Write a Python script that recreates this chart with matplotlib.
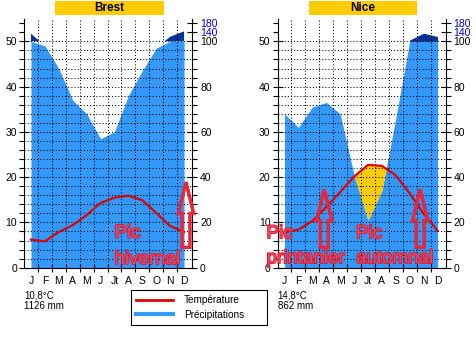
import numpy as np
import matplotlib.pyplot as plt
import matplotlib.patheffects as pe
from matplotlib.patches import Rectangle, FancyArrow
from matplotlib.lines import Line2D

plt.rcParams['font.family'] = ['Liberation Sans', 'DejaVu Sans']

months = ['J', 'F', 'M', 'A', 'M', 'J', 'Jt', 'A', 'S', 'O', 'N', 'D']

brest_temp = [6.2, 5.8, 7.9, 9.4, 11.6, 14.3, 15.5, 15.9, 14.9, 12.1, 9.2, 7.9]
brest_precip = [134, 98, 88, 74, 68, 57, 60, 76, 87, 97, 120, 144]
brest_mean = '10,8°C'
brest_total = '1126 mm'

nice_temp = [7.8, 8.4, 10.3, 13.4, 16.7, 20.1, 22.7, 22.5, 20.4, 16.4, 11.9, 8.2]
nice_precip = [68, 62, 71, 73, 68, 41, 21, 34, 66, 106, 136, 121]
nice_mean = '14,8°C'
nice_total = '862 mm'

mm_ticks = [0, 20, 40, 60, 80, 100, 140, 180]

LIGHT = '#3399FF'
DARK = '#003399'
DRY = '#FFCC00'
TEMP = '#DD0000'
NOTE = '#E8253A'


def deg_to_mm(d):
    d = np.asarray(d, dtype=float)
    return np.where(d <= 50, d * 2, 100 + (d - 50) * 20)


def mm_to_deg(p):
    p = np.asarray(p, dtype=float)
    return np.where(p <= 100, p / 2, 50 + (p - 100) / 20)


def station(ax, name, temp, precip, mean, total, notes, arrows):
    x = np.arange(1, 13)
    temp = np.array(temp)
    pdeg = mm_to_deg(precip)

    ax.fill_between(x, 0, np.minimum(pdeg, 50), color=LIGHT, lw=0, zorder=1)
    ax.fill_between(x, 50, pdeg, where=pdeg > 50, interpolate=True,
                    color=DARK, lw=0, zorder=1)
    ax.fill_between(x, pdeg, temp, where=temp > pdeg, interpolate=True,
                    color=DRY, lw=0, zorder=1.5)

    for b in np.arange(1.5, 12, 1):
        ax.axvline(b, color='black', lw=0.75, ls=(0, (1, 2)), zorder=2)
    for h in np.arange(2, 51, 2):
        ax.axhline(h, color='black', lw=0.75, ls=(0, (1, 2)), zorder=2)

    ax.plot(x, temp, color=TEMP, lw=1.6, zorder=3)

    ax.set_xlim(0.5, 12.6)
    ax.set_ylim(0, 55)
    ax.set_xticks(x, months)
    ax.set_xticks(np.arange(1.5, 12, 1), minor=True)
    ax.set_yticks(range(0, 51, 10))
    ax.set_yticks([v for v in range(2, 55, 2) if v % 10], minor=True)
    ax.tick_params(axis='x', which='major', length=0, pad=6, labelsize=7.5)
    ax.tick_params(axis='x', which='minor', direction='inout', length=6, width=0.8)
    ax.tick_params(axis='y', which='major', direction='inout', length=7,
                   width=0.8, labelsize=7.5, pad=1.5)
    ax.tick_params(axis='y', which='minor', direction='out', length=3.5, width=0.8)
    for s in ['top', 'right']:
        ax.spines[s].set_visible(False)
    for s in ['left', 'bottom']:
        ax.spines[s].set_linewidth(0.8)

    sec = ax.secondary_yaxis('right', functions=(deg_to_mm, mm_to_deg))
    sec.set_yticks(mm_ticks, [str(v) for v in mm_ticks])
    sec.set_yticks([v for v in range(4, 100, 4) if v % 20], minor=True)
    sec.tick_params(axis='y', which='major', direction='inout', length=7,
                    width=0.8, labelsize=7.5, pad=2)
    sec.tick_params(axis='y', which='minor', direction='out', length=3.5, width=0.8)
    sec.spines['right'].set_linewidth(0.8)
    for tk, v in zip(sec.yaxis.get_major_ticks(), mm_ticks):
        if v > 100:
            tk.label1.set_color('#0000CC')
            tk.label2.set_color('#0000CC')

    ax.add_patch(Rectangle((0.187, 1.015), 0.642, 0.057, transform=ax.transAxes,
                           fc=DRY, ec='none', clip_on=False))
    ax.text(0.508, 1.043, name, transform=ax.transAxes, ha='center', va='center',
            fontsize=8.5, fontweight='bold')

    for tx, ty, s in notes:
        ax.text(tx, ty, s, color='#EE4A5E', fontsize=13.5,
                ha='left', va='baseline', zorder=5,
                path_effects=[pe.withStroke(linewidth=1.2, foreground='#DD1028')])
    for axx, y0, y1 in arrows:
        arr = FancyArrow(axx, y0, 0, y1 - y0, width=0.57, head_width=1.1,
                         head_length=6.9, length_includes_head=True, fill=False,
                         ec=NOTE, lw=2.5, zorder=5)
        arr.set_clip_on(False)
        ax.add_patch(arr)

    ax.text(0.0, -0.11, mean, transform=ax.transAxes, fontsize=7, va='center')
    ax.text(0.0, -0.155, total, transform=ax.transAxes, fontsize=7, va='center')


fig = plt.figure(figsize=(4.76, 3.40), dpi=100)
ax1 = fig.add_axes([24 / 476, 1 - 267.7 / 340, 168.4 / 476, 249 / 340])
ax2 = fig.add_axes([277.5 / 476, 1 - 267.7 / 340, 168.4 / 476, 249 / 340])

station(ax1, 'Brest', brest_temp, brest_precip, brest_mean, brest_total,
        [(7.0, 6.6, 'Pic'), (7.0, 0.8, 'hivernal')],
        [(12.14, 4.5, 18.9)])
station(ax2, 'Nice', nice_temp, nice_precip, nice_mean, nice_total,
        [(-0.29, 6.5, 'Pic'), (-0.29, 1.0, 'printanier'),
         (6.14, 6.5, 'Pic'), (6.14, 1.0, 'automnal')],
        [(3.86, 4.5, 17.3), (10.75, 4.5, 17.3)])

handles = [Line2D([], [], color=TEMP, lw=2), Line2D([], [], color=LIGHT, lw=3)]
leg = fig.legend(handles, ['Température', 'Précipitations'], loc='upper left',
                 bbox_to_anchor=(131 / 476, 1 - 325 / 340, 136 / 476, 35 / 340),
                 mode='expand', borderaxespad=0,
                 fontsize=7.2, handlelength=3.7, handletextpad=1.1, labelspacing=0.45,
                 borderpad=0.5, fancybox=False, framealpha=1, edgecolor='black')
leg.get_frame().set_linewidth(0.8)

fig.savefig('out.png', dpi=100)
